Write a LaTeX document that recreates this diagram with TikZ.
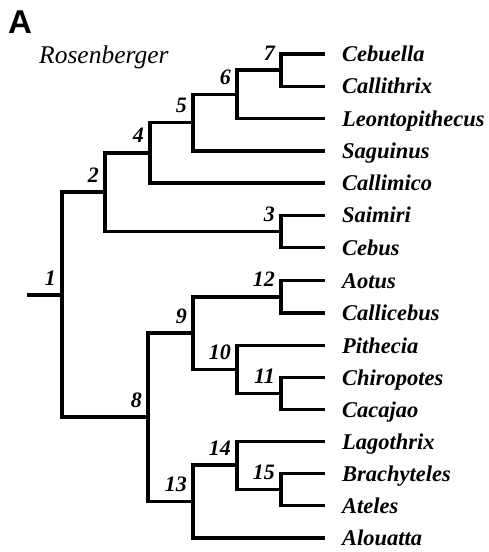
\documentclass[tikz,border=0pt]{standalone}
\usepackage{fontspec}
\setmainfont{Liberation Serif}
\newfontfamily\panelfont{Liberation Sans}
\usepackage{tikz}

\begin{document}
\begin{tikzpicture}[x=1pt,y=-1pt,
  branch/.style={line width=3.5pt},
  taxon/.style={anchor=base west, inner sep=0pt, xshift=17pt, yshift=-7.5pt,
    font=\fontsize{22.5}{22.5}\selectfont\bfseries\itshape},
  num/.style={anchor=base east, inner sep=0pt, xshift=-6pt, yshift=10pt,
    font=\fontsize{22}{22}\selectfont\bfseries\itshape}]

\useasboundingbox (0,0) rectangle (488,552);

\node[anchor=base west, inner sep=0pt, font=\panelfont\fontsize{33}{33}\selectfont\bfseries] (panel) at (8,33) {A};
\node[anchor=base west, inner sep=0pt, font=\fontsize{25.5}{25.5}\selectfont\itshape] (title) at (39,63) {Rosenberger};

% tips
\coordinate (cebuella) at (325,54);
\coordinate (callithrix) at (325,86.25);
\coordinate (leontopithecus) at (325,118.5);
\coordinate (saguinus) at (325,150.75);
\coordinate (callimico) at (325,183);
\coordinate (saimiri) at (325,215.25);
\coordinate (cebus) at (325,247.5);
\coordinate (aotus) at (325,280.5);
\coordinate (callicebus) at (325,313);
\coordinate (pithecia) at (325,345.5);
\coordinate (chiropotes) at (325,377.5);
\coordinate (cacajao) at (325,409.5);
\coordinate (lagothrix) at (325,441.5);
\coordinate (brachyteles) at (325,473.5);
\coordinate (ateles) at (325,505.5);
\coordinate (alouatta) at (325,537.75);

% internal nodes
\coordinate (root) at (27,295);
\coordinate (n1) at (62,295);
\coordinate (n2) at (105,192.1);
\coordinate (n3) at (281,231.4);
\coordinate (n4) at (150,152.8);
\coordinate (n5) at (193,122.5);
\coordinate (n6) at (237,94.3);
\coordinate (n7) at (281,70.1);
\coordinate (n8) at (148,417.2);
\coordinate (n9) at (193,333.1);
\coordinate (n10) at (237,369.5);
\coordinate (n11) at (281,393.5);
\coordinate (n12) at (281,296.8);
\coordinate (n13) at (193,501.3);
\coordinate (n14) at (237,465);
\coordinate (n15) at (281,489.5);

\draw[branch] (root) -- (n1);
\draw[branch] (n1) |- (n2);
\draw[branch] (n1) |- (n8);
\draw[branch] (n2) |- (n4);
\draw[branch] (n2) |- (n3);
\draw[branch] (n4) |- (n5);
\draw[branch] (n4) |- (callimico);
\draw[branch] (n5) |- (n6);
\draw[branch] (n5) |- (saguinus);
\draw[branch] (n6) |- (n7);
\draw[branch] (n6) |- (leontopithecus);
\draw[branch] (n7) |- (cebuella);
\draw[branch] (n7) |- (callithrix);
\draw[branch] (n3) |- (saimiri);
\draw[branch] (n3) |- (cebus);
\draw[branch] (n8) |- (n9);
\draw[branch] (n8) |- (n13);
\draw[branch] (n9) |- (n12);
\draw[branch] (n9) |- (n10);
\draw[branch] (n12) |- (aotus);
\draw[branch] (n12) |- (callicebus);
\draw[branch] (n10) |- (pithecia);
\draw[branch] (n10) |- (n11);
\draw[branch] (n11) |- (chiropotes);
\draw[branch] (n11) |- (cacajao);
\draw[branch] (n13) |- (n14);
\draw[branch] (n13) |- (alouatta);
\draw[branch] (n14) |- (lagothrix);
\draw[branch] (n14) |- (n15);
\draw[branch] (n15) |- (brachyteles);
\draw[branch] (n15) |- (ateles);

% node numbers
\node[num] (num1) at (n1) {1};
\node[num] (num2) at (n2) {2};
\node[num] (num3) at (n3) {3};
\node[num] (num4) at (n4) {4};
\node[num] (num5) at (n5) {5};
\node[num] (num6) at (n6) {6};
\node[num] (num7) at (n7) {7};
\node[num] (num8) at (n8) {8};
\node[num] (num9) at (n9) {9};
\node[num] (num10) at (n10) {10};
\node[num] (num11) at (n11) {11};
\node[num] (num12) at (n12) {12};
\node[num] (num13) at (n13) {13};
\node[num] (num14) at (n14) {14};
\node[num] (num15) at (n15) {15};

% genera
\node[taxon] (lab-cebuella) at (cebuella) {Cebuella};
\node[taxon] (lab-callithrix) at (callithrix) {Callithrix};
\node[taxon] (lab-leontopithecus) at (leontopithecus) {Leontopithecus};
\node[taxon] (lab-saguinus) at (saguinus) {Saguinus};
\node[taxon] (lab-callimico) at (callimico) {Callimico};
\node[taxon] (lab-saimiri) at (saimiri) {Saimiri};
\node[taxon] (lab-cebus) at (cebus) {Cebus};
\node[taxon] (lab-aotus) at (aotus) {Aotus};
\node[taxon] (lab-callicebus) at (callicebus) {Callicebus};
\node[taxon] (lab-pithecia) at (pithecia) {Pithecia};
\node[taxon] (lab-chiropotes) at (chiropotes) {Chiropotes};
\node[taxon] (lab-cacajao) at (cacajao) {Cacajao};
\node[taxon] (lab-lagothrix) at (lagothrix) {Lagothrix};
\node[taxon] (lab-brachyteles) at (brachyteles) {Brachyteles};
\node[taxon] (lab-ateles) at (ateles) {Ateles};
\node[taxon] (lab-alouatta) at (alouatta) {Alouatta};

\end{tikzpicture}
\end{document}
